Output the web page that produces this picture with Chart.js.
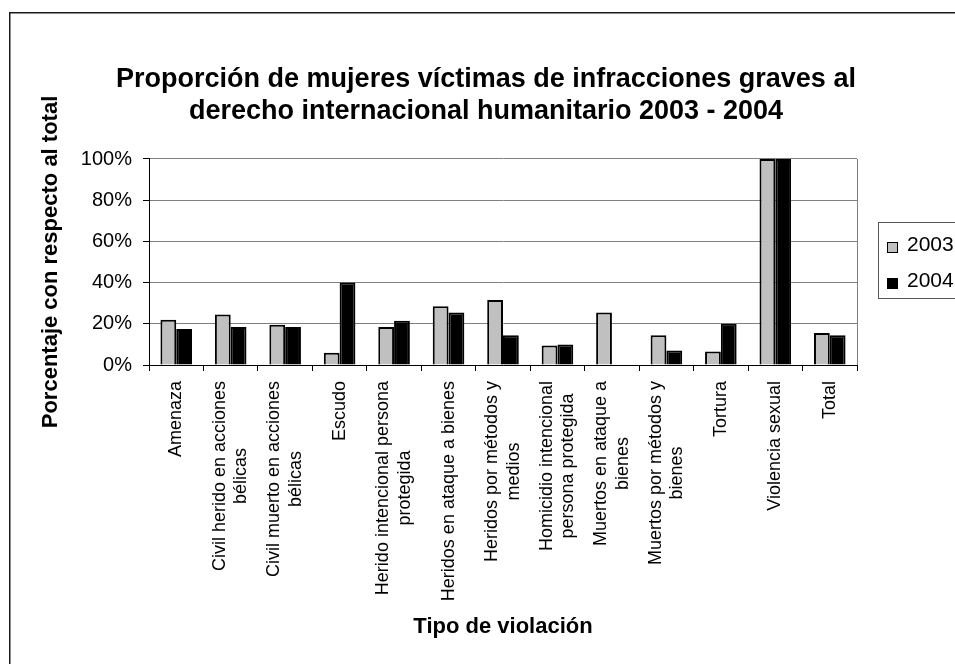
<!DOCTYPE html>
<html>
<head>
<meta charset="utf-8">
<script src="https://cdn.jsdelivr.net/npm/chart.js@4.4.1/dist/chart.umd.min.js"></script>
<style>
  html, body { margin: 0; padding: 0; background: #fff; overflow: hidden; }
  canvas { display: block; }
</style>
</head>
<body>
<canvas id="chart" width="955" height="664"></canvas>
<script>
// categories (line breaks as in the original)
const categories = [
  'Amenaza',
  ['Civil herido en acciones', 'bélicas'],
  ['Civil muerto en acciones', 'bélicas'],
  'Escudo',
  ['Herido intencional persona', 'protegida'],
  'Heridos en ataque a bienes',
  ['Heridos por métodos y', 'medios'],
  ['Homicidio intencional', 'persona protegida'],
  ['Muertos en ataque a', 'bienes'],
  ['Muertos por métodos y', 'bienes'],
  'Tortura',
  'Violencia sexual',
  'Total'
]

// percent values
const values2003 = [22, 24.5, 19.5, 6, 18.5, 28.5, 31.5, 9.5, 25.5, 14.5, 6.5, 100, 15.5]
const values2004 = [17.5, 18.5, 18.5, 40, 21.5, 25.5, 14.5, 10, 0, 7, 20, 100, 14.5]

const yTicks = [0, 20, 40, 60, 80, 100]

const titleLines = [
  'Proporción de mujeres víctimas de infracciones graves al',
  'derecho internacional humanitario 2003 - 2004'
]

const FONT = "'Liberation Sans', Arial, sans-serif"

// frame, legend box, right plot border and centered rotated category labels
const excelLook = {
  id: 'excelLook',
  beforeDatasetsDraw(chart) {
    const { ctx, chartArea } = chart
    ctx.save()
    ctx.strokeStyle = '#808080'
    ctx.lineWidth = 1
    ctx.beginPath()
    ctx.moveTo(Math.round(chartArea.right) + 0.5, chartArea.top)
    ctx.lineTo(Math.round(chartArea.right) + 0.5, chartArea.bottom)
    ctx.stroke()
    ctx.restore()
  },
  afterDraw(chart) {
    const { ctx } = chart
    ctx.save()

    // outer frame
    ctx.strokeStyle = '#1a1a1a'
    ctx.lineWidth = 1.5
    ctx.strokeRect(9.75, 12.75, 2000, 2000)

    // legend
    ctx.strokeStyle = '#555'
    ctx.lineWidth = 1
    ctx.strokeRect(878.5, 222.5, 120, 76)
    ctx.font = '21px ' + FONT
    ctx.textBaseline = 'middle'
    ctx.textAlign = 'left'
    chart.data.datasets.forEach((ds, i) => {
      const cy = 245 + i * 36
      ctx.fillStyle = ds.backgroundColor
      ctx.fillRect(887, cy - 3, 11, 11)
      ctx.strokeStyle = '#000'
      ctx.strokeRect(887.5, cy - 2.5, 10, 10)
      ctx.fillStyle = '#000'
      ctx.fillText(ds.label, 907, cy)
    })

    // category labels, rotated, lines centered like the original
    const xScale = chart.scales.x
    const lineGap = 21.5
    ctx.font = '18px ' + FONT
    ctx.fillStyle = '#000'
    ctx.textAlign = 'center'
    ctx.textBaseline = 'middle'
    chart.data.labels.forEach((label, i) => {
      const lines = Array.isArray(label) ? label : [label]
      const w = Math.max(...lines.map(l => ctx.measureText(l).width))
      const x = xScale.getPixelForTick(i)
      ctx.save()
      ctx.translate(x, xScale.top + 16)
      ctx.rotate(-Math.PI / 2)
      lines.forEach((line, j) => {
        ctx.fillText(line, -w / 2, (j - (lines.length - 1) / 2) * lineGap)
      })
      ctx.restore()
    })

    ctx.restore()
  }
}

new Chart(document.getElementById('chart'), {
  type: 'bar',
  data: {
    labels: categories,
    datasets: [
      {
        label: '2003',
        data: values2003,
        backgroundColor: '#C0C0C0',
        borderColor: '#000',
        borderWidth: 2,
        borderSkipped: 'start',
        barPercentage: 1,
        categoryPercentage: 0.58
      },
      {
        label: '2004',
        data: values2004,
        backgroundColor: '#000000',
        borderColor: '#000',
        borderWidth: 2,
        borderSkipped: 'start',
        barPercentage: 1,
        categoryPercentage: 0.58
      }
    ]
  },
  options: {
    responsive: false,
    animation: false,
    devicePixelRatio: 1,
    layout: { padding: { left: 17, right: 0, top: 0, bottom: 0 } },
    plugins: {
      legend: { display: false },
      tooltip: { enabled: false },
      title: {
        display: true,
        text: titleLines,
        color: '#000',
        font: { family: FONT, size: 27, weight: 'bold', lineHeight: 1.185 },
        padding: { top: 64, bottom: 31 }
      }
    },
    scales: {
      x: {
        afterFit: (s) => { s.height = 299 },
        grid: {
          display: true,
          offset: true,
          drawOnChartArea: false,
          drawTicks: true,
          tickLength: 6,
          tickColor: '#000'
        },
        border: { color: '#000', width: 1 },
        ticks: { display: false, autoSkip: false },
        title: {
          display: true,
          text: 'Tipo de violación',
          color: '#000',
          font: { family: FONT, size: 22, weight: 'bold', lineHeight: 1.2 },
          padding: { top: 0, bottom: 24 }
        }
      },
      y: {
        min: yTicks[0],
        max: yTicks[yTicks.length - 1],
        afterFit: (s) => { s.width = 132 },
        afterBuildTicks: (s) => { s.ticks = yTicks.map(v => ({ value: v })) },
        grid: {
          color: '#808080',
          lineWidth: 1,
          tickLength: 6,
          tickColor: '#000'
        },
        border: { color: '#000', width: 1 },
        ticks: {
          color: '#000',
          padding: 11,
          font: { family: FONT, size: 20 },
          callback: (v) => v + '%'
        },
        title: {
          display: true,
          text: 'Porcentaje con respecto al total',
          color: '#000',
          font: { family: FONT, size: 22, weight: 'bold', lineHeight: 1.2 },
          padding: { top: 21, bottom: 0 }
        }
      },
      // empty right axis only keeps room for the legend
      yRight: {
        position: 'right',
        afterFit: (s) => { s.width = 98 },
        grid: { display: false },
        border: { display: false },
        ticks: { display: false }
      }
    }
  },
  plugins: [excelLook]
})
</script>
</body>
</html>
